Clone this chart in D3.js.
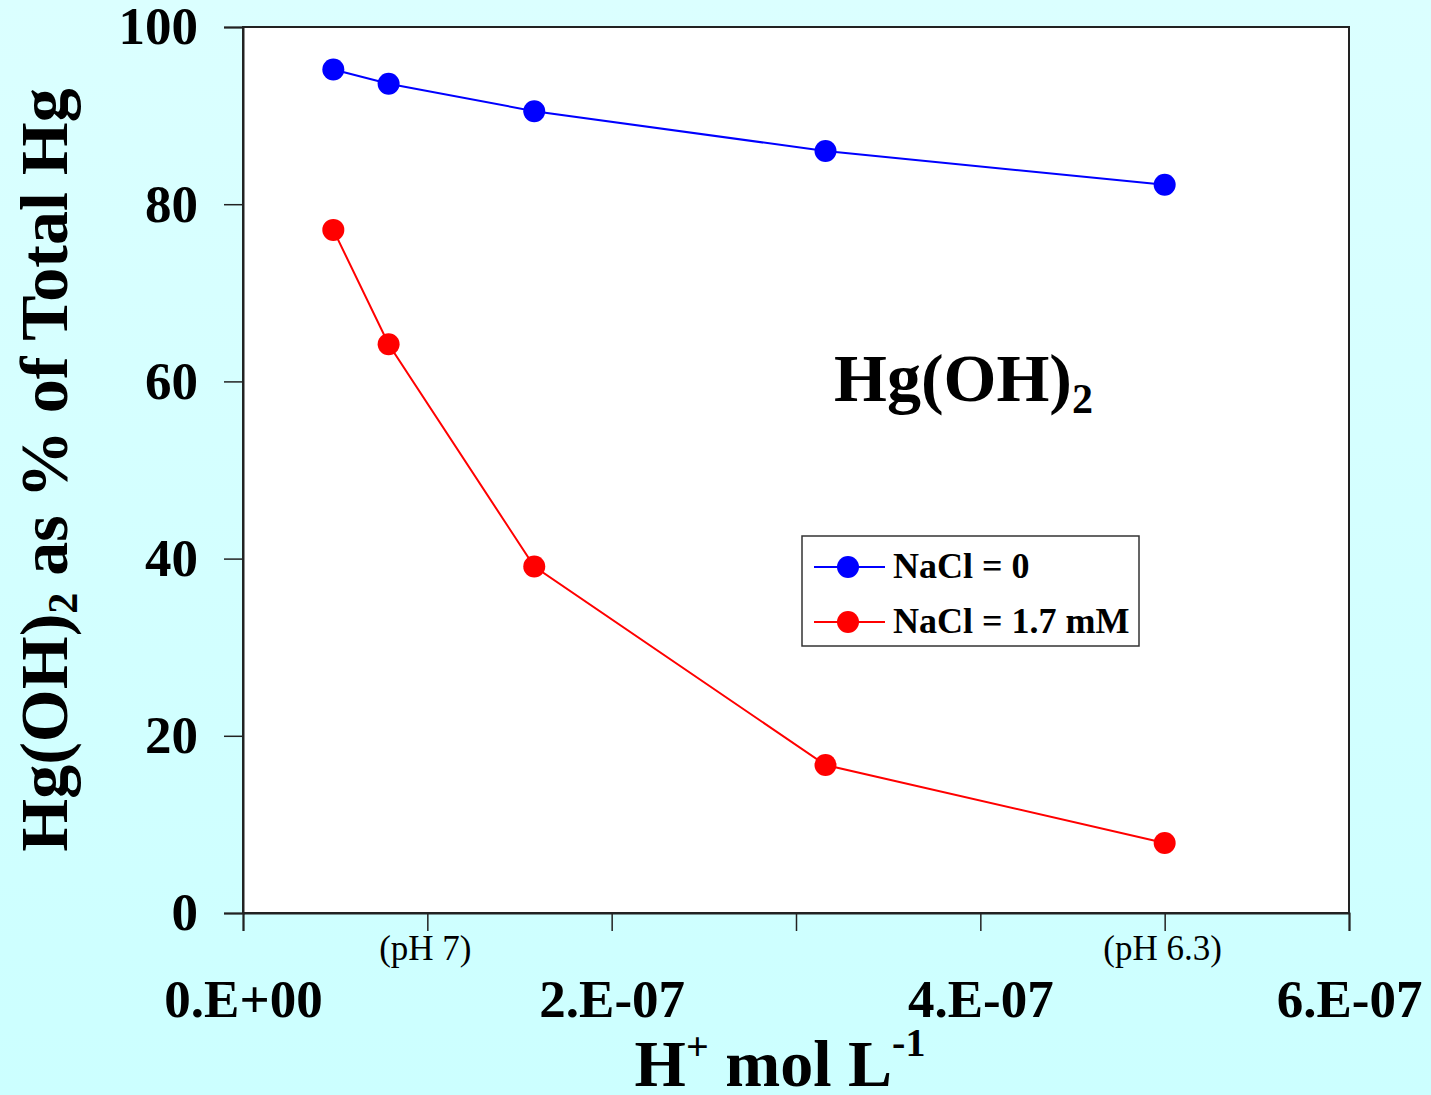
<!DOCTYPE html>
<html lang="en">
<head>
    <meta charset="UTF-8">
    <title>Hg(OH)2 as % of Total Hg</title>
    <script src="https://d3js.org/d3.v7.min.js"></script>
    <style>
        body {
            margin: 0;
            background-color: #ccffff;
        }
        svg {
            display: block;
            font-family: "Liberation Serif", "Times New Roman", serif;
        }
    </style>
</head>
<body>
    <svg id="chart"></svg>

    <script>
        // data
        const hPlus = [4.9e-8, 7.9e-8, 1.58e-7, 3.16e-7, 5.0e-7];
        const noSalt = [95.2, 93.6, 90.5, 86.0, 82.2];
        const withSalt = [77.1, 64.2, 39.1, 16.7, 7.9];
        const seriesNames = ["NaCl = 0", "NaCl = 1.7 mM"];
        const seriesColors = ["#0000ff", "#ff0000"];
        const xTicks = [0, 1e-7, 2e-7, 3e-7, 4e-7, 5e-7, 6e-7];
        const xTickLabels = ["0.E+00", "", "2.E-07", "", "4.E-07", "", "6.E-07"];
        const yTicks = [0, 20, 40, 60, 80, 100];
        const phNotes = [{ x: 1e-7, label: "(pH 7)" }, { x: 5e-7, label: "(pH 6.3)" }];

        const W = 1431, H = 1095;
        const plot = { left: 243, right: 1349, top: 27, bottom: 913 };

        const svg = d3.select("#chart")
            .attr("width", W)
            .attr("height", H);

        const defs = svg.append("defs");
        const grad = defs.append("linearGradient")
            .attr("id", "bg")
            .attr("x1", 0).attr("y1", 0).attr("x2", 0).attr("y2", 1);
        grad.append("stop").attr("offset", "0%").attr("stop-color", "#dbffff");
        grad.append("stop").attr("offset", "100%").attr("stop-color", "#ccffff");

        svg.append("rect")
            .attr("width", W)
            .attr("height", H)
            .attr("fill", "url(#bg)");

        const x = d3.scaleLinear()
            .domain([0, 6e-7])
            .range([plot.left, plot.right]);

        const y = d3.scaleLinear()
            .domain([0, 100])
            .range([plot.bottom, plot.top]);

        // plot area
        svg.append("rect")
            .attr("x", plot.left)
            .attr("y", plot.top)
            .attr("width", plot.right - plot.left)
            .attr("height", plot.bottom - plot.top)
            .attr("fill", "#ffffff")
            .attr("stroke", "#222")
            .attr("stroke-width", 2);

        // x axis
        const xAxis = svg.append("g")
            .attr("transform", `translate(0,${plot.bottom})`)
            .call(d3.axisBottom(x)
                .tickValues(xTicks)
                .tickSize(18)
                .tickFormat((d, i) => xTickLabels[i]));
        xAxis.select(".domain").attr("stroke", "#222").attr("stroke-width", 2);
        xAxis.selectAll(".tick line").attr("stroke", "#222").attr("stroke-width", 1.5);
        xAxis.selectAll(".tick text")
            .attr("y", 104)
            .attr("dy", 0)
            .attr("fill", "#000")
            .attr("font-family", "Liberation Serif")
            .attr("font-weight", "bold")
            .attr("font-size", 53);

        // y axis
        const yAxis = svg.append("g")
            .attr("transform", `translate(${plot.left},0)`)
            .call(d3.axisLeft(y)
                .tickValues(yTicks)
                .tickSize(19)
                .tickPadding(26));
        yAxis.select(".domain").attr("stroke", "#222").attr("stroke-width", 2);
        yAxis.selectAll(".tick line").attr("stroke", "#222").attr("stroke-width", 1.5);
        yAxis.selectAll(".tick text")
            .attr("fill", "#000")
            .attr("font-family", "Liberation Serif")
            .attr("font-weight", "bold")
            .attr("font-size", 53);

        // pH notes under the axis
        svg.selectAll(".ph")
            .data(phNotes)
            .enter().append("text")
            .attr("class", "ph")
            .attr("x", d => x(d.x) - 2)
            .attr("y", 960)
            .attr("text-anchor", "middle")
            .attr("font-size", 35)
            .attr("fill", "#000")
            .text(d => d.label);

        // series
        const series = [noSalt, withSalt];
        const line = d3.line()
            .x((d, i) => x(hPlus[i]))
            .y(d => y(d));

        series.forEach((vals, s) => {
            svg.append("path")
                .datum(vals)
                .attr("fill", "none")
                .attr("stroke", seriesColors[s])
                .attr("stroke-width", 2)
                .attr("d", line);

            svg.selectAll(".dot" + s)
                .data(vals)
                .enter().append("circle")
                .attr("class", "dot" + s)
                .attr("cx", (d, i) => x(hPlus[i]))
                .attr("cy", d => y(d))
                .attr("r", 11)
                .attr("fill", seriesColors[s]);
        });

        // annotation
        const note = svg.append("text")
            .attr("x", 834)
            .attr("y", 401)
            .attr("font-weight", "bold")
            .attr("font-size", 68)
            .attr("fill", "#000");
        note.append("tspan").text("Hg(OH)");
        note.append("tspan").attr("font-size", 42).attr("dy", 12).text("2");

        // legend
        const legend = svg.append("g");
        legend.append("rect")
            .attr("x", 802)
            .attr("y", 536)
            .attr("width", 337)
            .attr("height", 110)
            .attr("fill", "#fff")
            .attr("stroke", "#333")
            .attr("stroke-width", 1.5);

        seriesNames.forEach((name, s) => {
            const ly = 567 + s * 55;
            legend.append("line")
                .attr("x1", 814).attr("x2", 885)
                .attr("y1", ly).attr("y2", ly)
                .attr("stroke", seriesColors[s])
                .attr("stroke-width", 2);
            legend.append("circle")
                .attr("cx", 848).attr("cy", ly)
                .attr("r", 11)
                .attr("fill", seriesColors[s]);
            legend.append("text")
                .attr("x", 893)
                .attr("y", ly + 11)
                .attr("font-weight", "bold")
                .attr("font-size", 36)
                .attr("fill", "#000")
                .text(name);
        });

        // x title
        const xTitle = svg.append("text")
            .attr("x", 780)
            .attr("y", 1086)
            .attr("text-anchor", "middle")
            .attr("font-weight", "bold")
            .attr("font-size", 66)
            .attr("fill", "#000");
        xTitle.append("tspan").text("H");
        xTitle.append("tspan").attr("font-size", 40).attr("dy", -26).text("+");
        xTitle.append("tspan").attr("dy", 26).text(" mol L");
        xTitle.append("tspan").attr("font-size", 40).attr("dy", -30).text("-1");

        // y title
        const yTitle = svg.append("text")
            .attr("transform", "translate(67,470) rotate(-90)")
            .attr("text-anchor", "middle")
            .attr("font-weight", "bold")
            .attr("font-size", 68)
            .attr("fill", "#000");
        yTitle.append("tspan").text("Hg(OH)");
        yTitle.append("tspan").attr("font-size", 42).attr("dy", 10).text("2");
        yTitle.append("tspan").attr("dy", -10).text(" as % of Total Hg");
    </script>
</body>
</html>
